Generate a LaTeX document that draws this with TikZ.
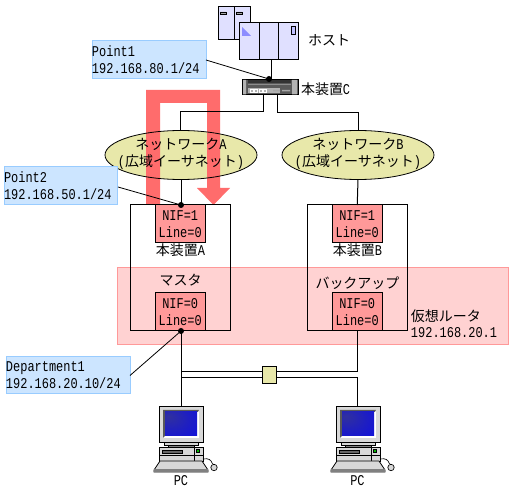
\documentclass[tikz,border=0pt]{standalone}
\usepackage{fontspec}
\usetikzlibrary{shapes.geometric,calc}
\setmainfont{Noto Sans CJK JP}
\newfontfamily\latf[FakeStretch=0.8]{Liberation Mono}
\newcommand{\lt}[1]{{\latf\fontsize{11.2pt}{13pt}\selectfont #1}}
\definecolor{boxblue}{HTML}{CCE5FF}
\definecolor{boxblueline}{HTML}{99CCFF}
\definecolor{redarrow}{HTML}{FF6C6C}
\definecolor{nifred}{HTML}{FF9999}
\definecolor{pinkfill}{HTML}{FFD2D2}
\definecolor{olive}{HTML}{E8E8AA}
\definecolor{hostfill}{HTML}{E0E0FF}
\definecolor{pcgrey}{HTML}{D8D8D8}
\pgfdeclareradialshading{scr}{\pgfpoint{-20bp}{16bp}}{color(0bp)=(rgb:red,0.30;green,0.30;blue,0.98);color(25bp)=(rgb:red,0.12;green,0.12;blue,0.75);color(75bp)=(rgb:red,0;green,0;blue,0.42)}
\tikzset{
  x=0.75pt,y=-0.75pt,
  every node/.style={inner sep=0pt,outer sep=0pt,font=\fontsize{10.5pt}{13pt}\selectfont},
  bx/.style 2 args={minimum width=#1*0.75pt,minimum height=#2*0.75pt},
  wire/.style={draw=black,line width=0.75pt},
  callout/.style={rectangle,draw=boxblueline,fill=boxblue,line width=0.75pt,align=left,anchor=north west},
  nif/.style={rectangle,draw=black,fill=nifred,line width=0.75pt,bx={50.5}{38},align=center},
  netfill/.style={ellipse,fill=olive,bx={152}{49}},
  netline/.style={ellipse,draw=black,line width=0.6pt,bx={152}{49}},
  unitbox/.style={rectangle,draw=black,line width=0.75pt,bx={100.5}{126}},
  lbl/.style={anchor=center,align=center},
  pcunit/.pic={
    \fill[pcgrey,draw=black,line width=0.6pt] (0,0) rectangle (44,36);
    \fill[white] (4,4) rectangle (40,32);
    \fill[black!65] (4,4) -- (40,4) -- (39,6) -- (6,6) -- (6,30) -- (4,32) -- cycle;
    \shade[shading=scr] (6,6) rectangle (38,30);
    \fill[pcgrey,draw=black,line width=0.6pt] (5,36) rectangle (39,39);
    \fill[black!50,draw=black,line width=0.5pt] (9,39) rectangle (35,41);
    \fill[pcgrey,draw=black,line width=0.6pt] (0,41) rectangle (44,55);
    \draw[line width=0.5pt] (0,49) -- (44,49) (35,41) -- (35,55);
    \fill[black!60,draw=black,line width=0.4pt] (3,44) rectangle (23,47);
    \fill[black] (37,43.5) rectangle (41,47.5);
    \fill[green!70!black] (38,44.5) rectangle (40,46.5);
    \fill[pcgrey,draw=black,line width=0.6pt] (1,55) -- (43,55) -- (49,64) -- (49,66) -- (-5,66) -- (-5,64) -- cycle;
    \fill[black!50] (-5,63.5) rectangle (49,66);
    \draw[line width=0.5pt] (44,53) .. controls (50,52) and (52,54) .. (53,57) -- (55,59);
    \draw[fill=pcgrey,line width=0.5pt] (55,61.5) circle (3.2);
  }
}
\begin{document}
\begin{tikzpicture}
\useasboundingbox (0,0) rectangle (512,499);
\fill[white] (0,0) rectangle (512,499);

% host
\node[rectangle,draw=black,fill=hostfill,line width=0.75pt,bx={32}{33}] (hostback) at (234,23.5) {};
\draw[line width=0.75pt] (hostback.north) -- (hostback.south);
\draw[line width=0.6pt,fill=black!35] (220,12) rectangle (226,14.5) (236,12) rectangle (242,14.5);
\node[rectangle,draw=black,fill=hostfill,line width=0.75pt,bx={59}{37}] (hostfront) at (269,41.5) {};
\draw[line width=0.75pt] (259.5,23) -- (259.5,60) (278.5,23) -- (278.5,60);
\fill[fill=blue!45] (242,27) -- (251,36) -- (242,36) -- cycle;
\draw[line width=0.6pt,fill=blue!25] (291,26) rectangle (295,34);
\node[anchor=west] (hostlabel) at (308,40) {ホスト};

% switch C
\node[rectangle,draw=black,fill=black!65,line width=0.75pt,bx={56}{15}] (devc) at (270,87) {};
\fill[black!30] (243,80) rectangle (246,94.5) (292,80) rectangle (297,94.5);
\fill[black!30] (248,88.5) rectangle (280,93);
\fill[black!80] (248,80.5) rectangle (291,83);
\fill[black!45] (248,84) rectangle (291,85);
\draw[white,line width=0.7pt] (250,89.5) rectangle (253,92) (254.5,89.5) rectangle (257.5,92) (259,89.5) rectangle (262,92) (263.5,89.5) rectangle (266.5,92);
\fill[black!35] (273,90) rectangle (280,91.5) (282,90) rectangle (290,91.5);
\node[anchor=west] (clabel) at (301,89) {本装置\lt{C}};

% ellipse fills
\node[netfill] (netAfill) at (181,155) {};
\node[netfill] (netBfill) at (358,155) {};

% big red arrow
\fill[redarrow] (146,204) -- (146,90) -- (220,90) -- (220,188) -- (230,188) -- (213.5,205) -- (197,188) -- (207,188) -- (207,103) -- (160,103) -- (160,204) -- cycle;

% ellipse outlines and texts
\node[netline] (netA) at (181,155) {};
\node[netline] (netB) at (358,155) {};
\node[lbl] (netAt) at (181,154) {ネットワーク\lt{A}\\\lt{(}広域イーサネット\lt{)}};
\node[lbl] (netBt) at (358,154) {ネットワーク\lt{B}\\\lt{(}広域イーサネット\lt{)}};

% units (white ground, pink band, outline)
\fill[white] (130,205) rectangle (231,331);
\fill[white] (307,205) rectangle (407.5,331);
\fill[pinkfill,draw=nifred,line width=0.75pt] (117.5,268) rectangle (508.5,345);
\node[unitbox] (boxA) at (180.5,268) {};
\node[unitbox] (boxB) at (357.25,268) {};
\node[nif] (nifA1) at (180.25,224) {\lt{NIF=1}\\\lt{Line=0}};
\node[nif] (nifA0) at (180.25,312) {\lt{NIF=0}\\\lt{Line=0}};
\node[nif] (nifB1) at (357.25,224) {\lt{NIF=1}\\\lt{Line=0}};
\node[nif] (nifB0) at (357.25,312) {\lt{NIF=0}\\\lt{Line=0}};
\node[lbl] (labA) at (180.5,250) {本装置\lt{A}};
\node[lbl] (labB) at (357.5,250) {本装置\lt{B}};
\node[lbl] (labM) at (180.5,280) {マスタ};
\node[lbl] (labBk) at (357.5,283) {バックアップ};
\node[anchor=west] (vr1) at (411,316) {仮想ルータ};
\node[anchor=west] (vr2) at (411,333) {\lt{192.168.20.1}};

% callouts
\node[callout,bx={114}{38}] (p1) at (92,41) {};
\node[anchor=west,align=left] (p1t) at (92,59.5) {\lt{Point1}\\\lt{192.168.80.1/24}};
\node[callout,bx={113}{38}] (p2) at (4,167) {};
\node[anchor=west,align=left] (p2t) at (4,185.5) {\lt{Point2}\\\lt{192.168.50.1/24}};
\node[callout,bx={124}{37}] (dep) at (6,357) {};
\node[anchor=west,align=left] (dept) at (6,375) {\lt{Department1}\\\lt{192.168.20.10/24}};

% switch square
\node[rectangle,draw=black,fill=olive,line width=0.75pt,bx={14}{17}] (sw) at (269,375.5) {};

% coordinates on nodes
\coordinate (c1) at (263,95);
\coordinate (c2) at (277,95);
\coordinate (dotC) at (269,79);
\coordinate (dotA) at (181,205);
\coordinate (dotD) at (181,331);
\coordinate (pc1) at (181,406);
\coordinate (pc2) at (357.5,406);
\coordinate (netAtop) at (180.5,130);
\coordinate (netBtop) at (358,130);

% connectors
\draw[wire] (hostfront.south -| 271,0) -- (271,79);
\draw[wire] (c1) |- (180.5,112) -- (netAtop);
\draw[wire] (c2) |- (358,113) -- (netBtop);
\draw[wire] (netA.south) -- (dotA);
\draw[wire] (netB.south) -- (nifB1.north);
\draw[wire] (dotD) -- (pc1);
\draw[wire] (nifB0.south) -- (357.25,372) -- (sw.east |- 0,372);
\draw[wire] (181,372) -- (sw.west |- 0,372);
\draw[wire] (181,378) -- (sw.west |- 0,378);
\draw[wire] (sw.east |- 0,378) -- (357.5,378) -- (pc2);
\draw[line width=0.6pt] (p1.east) -- (dotC);
\draw[line width=0.6pt] (118,187) -- (dotA);
\draw[line width=0.6pt] (dep.east) -- (dotD);
\fill (dotC) circle (3);
\fill (dotA) circle (3);
\fill (dotD) circle (3);

% PCs
\pic at (159,406) {pcunit};
\pic at (336,406) {pcunit};
\node[lbl] (pcl1) at (181,481) {\lt{PC}};
\node[lbl] (pcl2) at (357.5,481) {\lt{PC}};
\end{tikzpicture}
\end{document}
